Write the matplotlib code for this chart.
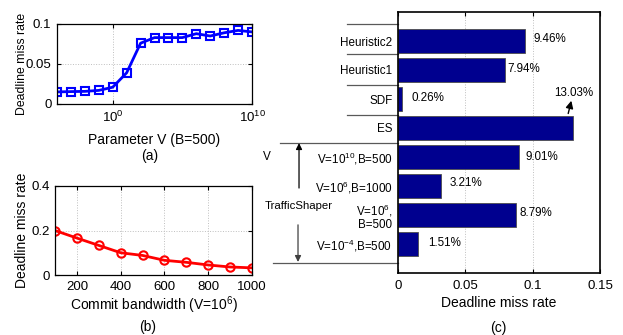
import matplotlib
matplotlib.use("Agg")
import matplotlib.pyplot as plt
from matplotlib.lines import Line2D
import matplotlib.transforms as mtransforms

plt.rcParams["font.family"] = ["Liberation Sans", "DejaVu Sans"]
plt.rcParams["mathtext.fontset"] = "custom"
plt.rcParams["mathtext.rm"] = "Liberation Sans"
plt.rcParams["mathtext.it"] = "Liberation Sans:italic"
plt.rcParams["mathtext.bf"] = "Liberation Sans:bold"

# (a) miss rate vs parameter V, B=500
V_VALUES = [1e-4, 1e-3, 1e-2, 1e-1, 1e0, 1e1, 1e2, 1e3, 1e4, 1e5,
            1e6, 1e7, 1e8, 1e9, 1e10]
MISS_VS_V = [0.0151, 0.0155, 0.0158, 0.017, 0.021, 0.039, 0.076, 0.083,
             0.083, 0.083, 0.0879, 0.085, 0.089, 0.092, 0.0901]

# (b) miss rate vs commit bandwidth, V=10^6
BANDWIDTH = [100, 200, 300, 400, 500, 600, 700, 800, 900, 1000]
MISS_VS_B = [0.2, 0.166, 0.133, 0.1, 0.0879, 0.066, 0.057, 0.045, 0.036, 0.0321]

# (c) comparison of schemes, top to bottom
SCHEMES = ["Heuristic2", "Heuristic1", "SDF", "ES",
           "V=10$^{10}$,B=500", "V=10$^{6}$,B=1000",
           "V=10$^{6}$,\nB=500", "V=10$^{-4}$,B=500"]
SCHEME_MISS = [0.0946, 0.0794, 0.0026, 0.1303, 0.0901, 0.0321, 0.0879, 0.0151]

W, H = 623, 335
BAR_COLOR = "#00008F"
GRID = dict(color="0.75", linestyle=":", linewidth=0.7)


def px_axes(fig, left, top, right, bottom):
    return fig.add_axes([left / W, (H - bottom) / H, (right - left) / W, (bottom - top) / H])


def matlab_style(ax):
    for s in ax.spines.values():
        s.set_linewidth(0.9)
    ax.tick_params(direction="in", top=True, right=True, length=3, width=0.8,
                   labelsize=9.5, pad=4)
    ax.grid(True, **GRID)
    ax.set_axisbelow(True)


fig = plt.figure(figsize=(W / 100, H / 100), dpi=100)

# ---- (a)
ax_a = px_axes(fig, 57, 24, 252, 104)
ax_a.plot(V_VALUES, MISS_VS_V, color="blue", linewidth=2, marker="s",
          markersize=5.5, markerfacecolor="none", markeredgewidth=1.5)
ax_a.set_xscale("log")
ax_a.set_xlim(1e-4, 1e10)
ax_a.set_xticks([1e0, 1e10])
ax_a.minorticks_off()
ax_a.set_ylim(0, 0.1)
ax_a.set_yticks([0, 0.05, 0.1])
ax_a.set_yticklabels(["0", "0.05", "0.1"])
matlab_style(ax_a)
ax_a.set_xlabel("Parameter V (B=500)", fontsize=10, va="center")
ax_a.xaxis.set_label_coords(0.5, -0.45)
ax_a.set_ylabel("Deadline miss rate", fontsize=8.8, va="center")
ax_a.yaxis.set_label_coords(-0.18, 0.5)
ax_a.text(0.477, -0.65, "(a)", transform=ax_a.transAxes, ha="center", va="center", fontsize=10)

# ---- (b)
ax_b = px_axes(fig, 55, 186, 252, 275)
ax_b.plot(BANDWIDTH, MISS_VS_B, color="red", linewidth=2, marker="o",
          markersize=6, markerfacecolor="none", markeredgewidth=1.5)
ax_b.set_xlim(100, 1000)
ax_b.set_xticks([200, 400, 600, 800, 1000])
ax_b.set_ylim(0, 0.4)
ax_b.set_yticks([0, 0.2, 0.4])
ax_b.set_yticklabels(["0", "0.2", "0.4"])
matlab_style(ax_b)
ax_b.set_xlabel("Commit bandwidth (V=10$^{6}$)", fontsize=10, va="center")
ax_b.xaxis.set_label_coords(0.5, -0.337)
ax_b.set_ylabel("Deadline miss rate", fontsize=10, va="center")
ax_b.yaxis.set_label_coords(-0.168, 0.5)
ax_b.text(0.47, -0.584, "(b)", transform=ax_b.transAxes, ha="center", va="center", fontsize=10)

# ---- (c)
ax_c = px_axes(fig, 398, 12, 600, 273)
pos = list(range(len(SCHEMES), 0, -1))
ax_c.barh(pos, SCHEME_MISS, height=0.8, color=BAR_COLOR, edgecolor="0.3", linewidth=0.6)
ax_c.set_xlim(0, 0.15)
ax_c.set_xticks([0, 0.05, 0.1, 0.15])
ax_c.set_xticklabels(["0", "0.05", "0.1", "0.15"])
ax_c.set_ylim(0, 9)
ax_c.set_yticks(pos)
ax_c.set_yticklabels(SCHEMES, fontsize=8.4, ha="right", linespacing=1.1)
for s in ax_c.spines.values():
    s.set_linewidth(1.2)
ax_c.tick_params(axis="x", direction="in", top=True, length=3, labelsize=9.5, pad=5)
ax_c.tick_params(axis="y", length=0, pad=4)
ax_c.grid(True, axis="x", **GRID)
ax_c.set_axisbelow(True)
ax_c.set_xlabel("Deadline miss rate", fontsize=10, va="center")
ax_c.xaxis.set_label_coords(0.5, -0.115)
ax_c.text(0.495, -0.21, "(c)", transform=ax_c.transAxes, ha="center", va="center", fontsize=10)

# value labels next to bars (offsets in px, hand placed as in the original)
label_dx = [8, 2, 10, 0, 6, 8, 3, 10]
label_dy = [2, 1, 1, 0, 0, 3, 2, 1]
to_data = 0.15 / 202
for p, v, dx, dy, name in zip(pos, SCHEME_MISS, label_dx, label_dy, SCHEMES):
    txt = f"{v * 100:.2f}%"
    if name == "ES":
        # label sits above the bar with a small arrow pointing up to it
        ax_c.text(0.1302, p + 1.22, txt, ha="center", va="center", fontsize=8.4)
        ax_c.annotate("", xy=(0.1287, p + 0.94), xytext=(0.1264, p + 0.5),
                      arrowprops=dict(arrowstyle="-|>", color="black", lw=1.0,
                                      mutation_scale=11, shrinkA=0, shrinkB=0))
    else:
        ax_c.text(v + dx * to_data, p + dy / 29, txt, ha="left", va="center", fontsize=8.4)

# group separators and the TrafficShaper brackets left of the bars
trans = mtransforms.blended_transform_factory(ax_c.transAxes, ax_c.transData)
separators = [(8.59, -0.252), (7.55, -0.252), (6.48, -0.252), (5.45, -0.252),
              (4.48, -0.584), (0.34, -0.619)]
for y, x0 in separators:
    ax_c.add_line(Line2D([x0, 0], [y, y], transform=trans, color="0.35",
                         linewidth=0.9, clip_on=False))

ax_c.annotate("", xy=(-0.49, 4.48), xytext=(-0.49, 2.93),
              xycoords=trans, textcoords=trans,
              arrowprops=dict(arrowstyle="-|>", color="black", lw=0.9,
                              mutation_scale=9, shrinkA=0, shrinkB=0))
ax_c.annotate("", xy=(-0.495, 0.38), xytext=(-0.495, 1.66),
              xycoords=trans, textcoords=trans,
              arrowprops=dict(arrowstyle="-|>", color="0.25", lw=0.9,
                              mutation_scale=9, shrinkA=0, shrinkB=0))
ax_c.text(-0.65, 4.0, "V", transform=trans, ha="center", va="center", fontsize=8.5)
ax_c.text(-0.49, 2.31, "TrafficShaper", transform=trans, ha="center", va="center", fontsize=8.2)

fig.savefig("out.png", dpi=100)
